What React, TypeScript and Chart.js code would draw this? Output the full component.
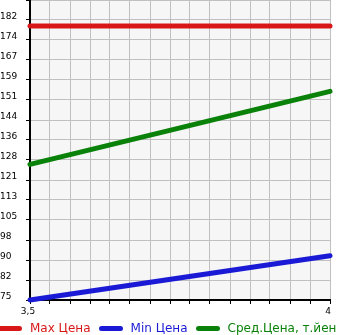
import React, { useEffect, useRef } from "react";
import { Chart, registerables } from "chart.js";

Chart.register(...registerables);

// ---- data ----
const xValues = [3.5, 4];
const maxPrice = [180, 180];
const minPrice = [75, 92];
const avgPrice = [127, 155];

const seriesNames = ["Max Цена", "Min Цена", "Сред.Цена, т.йен"];
const seriesColors = ["#d81818", "#1a1ad6", "#0a820a"];

const yMin = 75;
const yMax = 190;
const yTickLabels = ["75", "82", "90", "98", "105", "113", "121", "128", "136", "144", "151", "159", "167", "174", "182", ""];

const xMin = 3.5;
const xMax = 4;
const xGridCount = 15;
const xLabelValues = [3.5, 4];
const xTickLabels = ["3,5", "4"];

const FONT = "'DejaVu Sans', sans-serif";

const bgPlugin = {
  id: "plotBg",
  beforeDraw(chart: any) {
    const { ctx, chartArea } = chart;
    if (!chartArea) return;
    ctx.save();
    ctx.fillStyle = "#f6f6f6";
    ctx.fillRect(chartArea.left, chartArea.top, chartArea.right - chartArea.left, chartArea.bottom - chartArea.top);
    ctx.restore();
  },
};

export default function App() {
  const canvasRef = useRef<HTMLCanvasElement | null>(null);

  useEffect(() => {
    if (!canvasRef.current) return;
    const seriesData = [maxPrice, minPrice, avgPrice];
    const yStep = (yMax - yMin) / (yTickLabels.length - 1);
    const chart = new Chart(canvasRef.current, {
      type: "line",
      data: {
        datasets: seriesData.map((vals, s) => ({
          label: seriesNames[s],
          data: xValues.map((x, i) => ({ x, y: vals[i] })),
          borderColor: seriesColors[s],
          backgroundColor: seriesColors[s],
          borderWidth: 5,
          borderCapStyle: "round" as const,
          pointRadius: 0,
          tension: 0,
          clip: 4,
        })),
      },
      options: {
        animation: false,
        responsive: true,
        maintainAspectRatio: false,
        layout: { padding: { left: 0, right: 15, top: 0, bottom: 15 } },
        plugins: {
          legend: { display: false },
          tooltip: { enabled: false },
        },
        scales: {
          x: {
            type: "linear",
            min: xMin,
            max: xMax,
            afterBuildTicks: (scale: any) => {
              scale.ticks = Array.from({ length: xGridCount + 1 }, (_, i) => ({
                value: xMin + (i * (xMax - xMin)) / xGridCount,
              }));
            },
            afterFit: (scale: any) => {
              scale.height = 20;
              scale.paddingLeft = 0;
              scale.paddingRight = 0;
            },
            grid: {
              color: "#c0c0c0",
              lineWidth: 1,
              tickColor: "#000",
              tickLength: 4,
              drawTicks: true,
            },
            border: { display: true, color: "#000", width: 2 },
            ticks: {
              autoSkip: false,
              maxRotation: 0,
              padding: 2,
              labelOffset: -2,
              color: "#000",
              font: { family: FONT, size: 9 },
              callback: (value: any) => {
                const j = xLabelValues.findIndex((v) => Math.abs(v - Number(value)) < 1e-9);
                return j >= 0 ? xTickLabels[j] : "";
              },
            },
          },
          y: {
            type: "linear",
            min: yMin,
            max: yMax,
            afterBuildTicks: (scale: any) => {
              scale.ticks = yTickLabels.map((_, i) => ({ value: yMin + i * yStep }));
            },
            afterFit: (scale: any) => {
              scale.width = 30;
              scale.paddingTop = 0;
              scale.paddingBottom = 0;
            },
            grid: {
              color: "#c0c0c0",
              lineWidth: 1,
              tickColor: "#000",
              tickLength: 4,
              drawTicks: true,
            },
            border: { display: true, color: "#000", width: 2 },
            ticks: {
              autoSkip: false,
              crossAlign: "far" as const,
              labelOffset: -3,
              color: "#000",
              font: { family: FONT, size: 9 },
              callback: (_v: any, i: number) => yTickLabels[i],
            },
          },
        },
      },
      plugins: [bgPlugin],
    } as any);
    return () => chart.destroy();
  }, []);

  return (
    <div style={{ position: "fixed", left: 0, top: 0, width: 345, height: 335, background: "#fff", overflow: "hidden" }}>
      <div style={{ position: "absolute", left: 0, top: 0, width: 345, height: 335 }}>
        <canvas ref={canvasRef} />
      </div>
      <div
        style={{
          position: "absolute",
          left: -2,
          top: 322,
          display: "flex",
          alignItems: "center",
          whiteSpace: "nowrap",
          fontFamily: FONT,
          fontSize: 12,
          lineHeight: "12px",
        }}
      >
        {seriesNames.map((name, i) => (
          <div key={name} style={{ display: "flex", alignItems: "center", marginRight: 8 }}>
            <span
              style={{
                display: "inline-block",
                width: 24,
                height: 5,
                borderRadius: 2.5,
                background: seriesColors[i],
                marginRight: 8,
              }}
            />
            <span style={{ color: seriesColors[i] }}>{name}</span>
          </div>
        ))}
      </div>
    </div>
  );
}
